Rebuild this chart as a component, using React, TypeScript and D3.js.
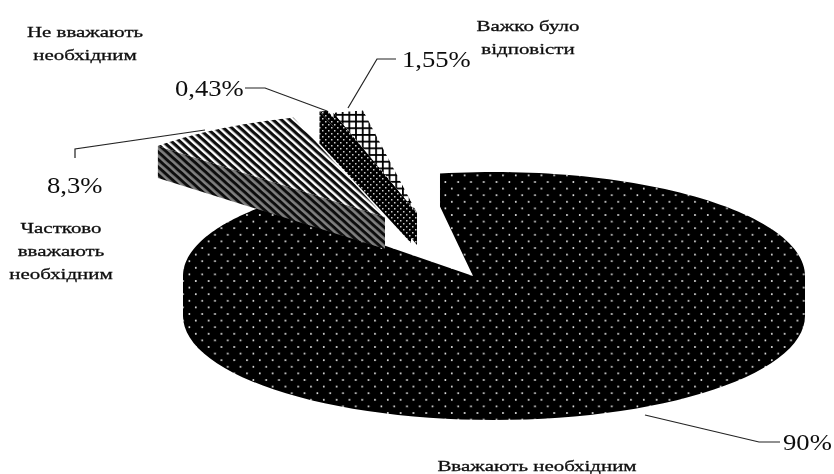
import React from "react";
import * as d3 from "d3";

const categories = ["Вважають необхідним", "Частково вважають необхідним", "Не вважають необхідним", "Важко було відповісти"];
const values = [90, 8.3, 0.43, 1.55];
const valueLabels = ["90%", "8,3%", "0,43%", "1,55%"];
const patternIds = ["dots", "stripes", "darkGrid", "grid"];
const sidePatternIds = ["dots", "stripesSide", "darkGrid", "darkGrid"];

const width = 834;
const height = 474;
const centre = {x: 494, y: 276};
const rx = 311;
const ry = 104;
const depth = 40;
const wedgeDepth = 32;
const startDeg = -10;

// where each pulled-out slice has its tip
const wedgeTips = [null, {x: 385, y: 217}, {x: 411, y: 211}, {x: 417, y: 213}];

const pie = d3.pie<number>().sort(null)
    .startAngle(startDeg * Math.PI / 180)
    .endAngle((startDeg + 360) * Math.PI / 180);

const rim = (a: number, c: {x: number, y: number}, dy = 0): [number, number] =>
    [c.x + rx * Math.sin(a), c.y - ry * Math.cos(a) + dy];

const rimPoints = (a0: number, a1: number, c: {x: number, y: number}, dy = 0) =>
    d3.range(0, 61).map(i => rim(a0 + (a1 - a0) * i / 60, c, dy));

const line = d3.line();

const arcs = pie(values);

// main slice outline, with the tip where the notch closes
const mainPath = () => {
    const a0 = arcs[0].startAngle;
    const a1 = arcs[0].endAngle;
    const r = Math.PI / 2;
    const tip: [number, number] = [473, 276];
    const pts: [number, number][] = [
        tip,
        rim(a0, centre, depth - 7),
        ...rimPoints(a0, r, centre),
        ...rimPoints(r, 3 * r, centre, depth),
        ...rimPoints(3 * r, a1, centre),
    ];
    return line(pts) + "Z";
};

const wedgeTop = (i: number) => {
    const tip = wedgeTips[i]!;
    const pts: [number, number][] = [[tip.x, tip.y], ...rimPoints(arcs[i].startAngle, arcs[i].endAngle, tip)];
    return line(pts) + "Z";
};

const wedgeSide = (i: number) => {
    const tip = wedgeTips[i]!;
    const outer = rim(arcs[i].startAngle, tip);
    const pts: [number, number][] = [
        [tip.x, tip.y], outer, [outer[0], outer[1] + wedgeDepth], [tip.x, tip.y + wedgeDepth],
    ];
    return line(pts) + "Z";
};

const leaders: [number, number][][] = [
    [[645, 415], [759, 442], [780, 442]],
    [[205, 130], [75, 149], [75, 158]],
    [[327, 111], [265, 88], [245, 88]],
    [[348, 108], [377, 59], [396, 59]],
];
const valueAnchors = [[783, 450], [47, 193], [175, 96], [402, 67]];

const textBlocks = [
    {lines: ["Вважають необхідним"], x: 537, y: 471},
    {lines: ["Частково", "вважають", "необхідним"], x: 61, y: 233},
    {lines: ["Не вважають", "необхідним"], x: 85, y: 37},
    {lines: ["Важко було", "відповісти"], x: 528, y: 31},
];

const App = () => {
    return (
        <svg width={width} height={height} style={{position: "absolute", left: 0, top: 0, background: "#fff"}}
             fontFamily="'Liberation Serif', serif">
            <defs>
                <filter id="soft" x="0" y="0" width="100%" height="100%">
                    <feGaussianBlur stdDeviation="0.4"/>
                </filter>
                <pattern id="dots" width="12.8" height="13.2" patternUnits="userSpaceOnUse">
                    <rect width="12.8" height="13.2" fill="#000"/>
                    <rect x="3" y="3" width="1.6" height="1.6" fill="#fff"/>
                    <rect x="9.4" y="9.6" width="1.6" height="1.6" fill="#fff"/>
                </pattern>
                <pattern id="stripes" width="5.6" height="5.6" patternUnits="userSpaceOnUse" patternTransform="rotate(42)">
                    <rect width="5.6" height="5.6" fill="#fff"/>
                    <rect width="5.6" height="3.2" fill="#111"/>
                </pattern>
                <pattern id="stripesSide" width="5.6" height="5.6" patternUnits="userSpaceOnUse" patternTransform="rotate(42)">
                    <rect width="5.6" height="5.6" fill="#808080"/>
                    <rect width="5.6" height="3" fill="#111"/>
                </pattern>
                <pattern id="grid" width="6.7" height="6.7" patternUnits="userSpaceOnUse">
                    <rect width="6.7" height="6.7" fill="#fff"/>
                    <rect width="6.7" height="1.8" fill="#000"/>
                    <rect width="1.8" height="6.7" fill="#000"/>
                </pattern>
                <pattern id="darkGrid" width="6" height="6" patternUnits="userSpaceOnUse">
                    <rect width="6" height="6" fill="#000"/>
                    <rect x="1" y="1" width="1.5" height="1.5" fill="#ccc"/>
                    <rect x="4" y="4" width="1.5" height="1.5" fill="#ccc"/>
                </pattern>
            </defs>

            <g filter="url(#soft)">
                <path d={mainPath()} fill={`url(#${patternIds[0]})`}/>

                {[1, 2, 3].map(i => (
                    <g key={categories[i]}>
                        <path d={wedgeSide(i)} fill={`url(#${sidePatternIds[i]})`}/>
                        <path d={wedgeTop(i)} fill={`url(#${patternIds[i]})`}/>
                    </g>
                ))}

                {leaders.map((pts, i) => (
                    <path key={i} d={line(pts)!} fill="none" stroke="#222" strokeWidth={1.2}/>
                ))}

                {valueLabels.map((t, i) => (
                    <text key={t} transform={`translate(${valueAnchors[i][0]},${valueAnchors[i][1]}) scale(1.11,1)`}
                          fontSize={24} fill="#111">{t}</text>
                ))}

                {textBlocks.map(b => (
                    <g key={b.lines[0]} transform={`translate(${b.x},${b.y}) scale(1.35,1)`}>
                        <text textAnchor="middle" fontSize={15.5} fill="#111" stroke="#111" strokeWidth={0.3}>
                            {b.lines.map((l, j) => (
                                <tspan key={l} x={0} y={j * 23}>{l}</tspan>
                            ))}
                        </text>
                    </g>
                ))}
            </g>
        </svg>
    );
};

export default App;
